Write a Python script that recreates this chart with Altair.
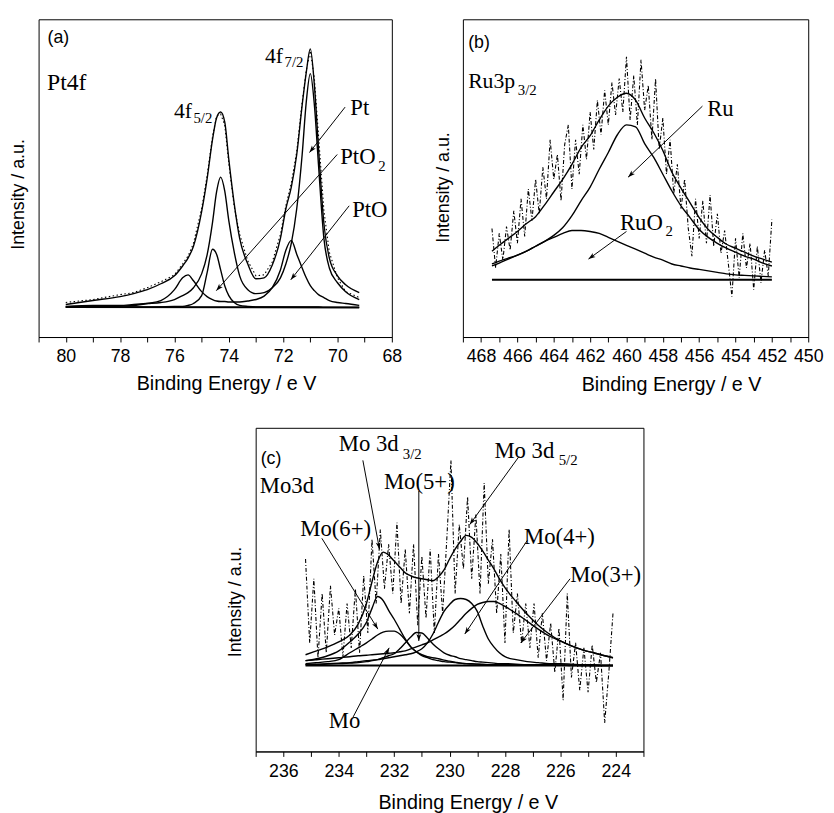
import math
import altair as alt
import pandas as pd

SANS = "Liberation Sans"
SERIF = "Liberation Serif"

# ---------------- (a) Pt 4f ----------------
a_E = [80, 79, 78, 77.5, 77, 76.5, 76, 75.7, 75.5, 75.3, 75.0, 74.8, 74.6, 74.45, 74.3,
       74.15, 74.0, 73.8, 73.6, 73.3, 73.0, 72.7, 72.4, 72.1, 71.9, 71.7, 71.5, 71.3,
       71.15, 71.0, 70.85, 70.7, 70.5, 70.3, 70.0, 69.7, 69.2]
a_env = [33, 37, 41, 44, 48, 54, 62, 72, 80, 92, 127, 160, 200, 222, 228, 218, 180, 135, 100, 74,
         59, 60, 73, 100, 130, 152, 185, 235, 268, 292, 255, 192, 115, 80, 62, 53, 45]
a_raw = [35, 38, 43, 45, 50, 56, 63, 74, 82, 95, 130, 163, 203, 224, 226, 215, 176, 132, 104, 77,
         62, 63, 76, 104, 133, 156, 188, 238, 270, 290, 262, 205, 128, 86, 60, 46, 40]
a_pt = [31, 32, 32, 33, 34, 35, 38, 42, 45, 50, 64, 83, 116, 147, 162, 148, 118, 86, 62, 48,
        44, 45, 50, 60, 74, 95, 130, 185, 238, 267, 235, 175, 100, 70, 55, 46, 38]
a_pto = [30.5, 31, 31.5, 32, 34, 37, 48, 60, 63, 57, 46, 41, 38, 36.5, 36, 36, 35.5, 35.5, 35.5, 36.5,
         38, 41.5, 50, 68, 88, 98, 84, 70, 60, 52, 47, 43, 40, 37, 35, 34, 32]
a_pto2 = [30, 30, 30, 30, 30, 30.5, 31, 31, 32, 34, 42, 65, 89, 84, 68, 52, 42, 35, 32, 31,
          30.5, 30.5, 30.5, 30.5, 30.5, 30.5, 30.5, 30.5, 30.5, 30.5, 30.5, 30.5, 30, 30, 30, 30, 30]
a_bg_E = [80.0, 69.2]
a_bg_I = [30.5, 30.0]
a_ar_x1 = [69.72, 70.01, 69.57]
a_ar_y1 = [233, 185, 133]
a_ar_x2 = [71.03, 74.46, 71.72]
a_ar_y2 = [187, 47, 58]
a_txt = ["Pt4f", "4f", "5/2", "4f", "7/2", "Pt", "PtO", "2", "PtO"]
a_txt_x = [80.69, 76.02, 75.30, 72.67, 71.95, 69.53, 69.9, 68.50, 69.46]
a_txt_y = [250, 222, 217, 278, 274, 225, 175, 168, 122]
a_txt_fs = [24, 22, 15, 22, 15, 23, 23, 15, 23]

# ---------------- (b) Ru 3p3/2 ----------------
b_E = [467.4, 467.0, 466.5, 466.0, 465.5, 465.0, 464.5, 464.0, 463.5, 463.0,
       462.5, 462.0, 461.5, 461.0, 460.5, 460.0, 459.5, 459.0, 458.5, 458.0,
       457.5, 457.0, 456.5, 456.0, 455.5, 455.0, 454.5, 454.0, 453.5, 453.0, 452.5, 452.0]
b_env = [87, 93, 100, 107, 115, 122, 134, 147, 160, 175, 192, 204, 220, 234, 243, 247, 240, 222, 207, 189,
         167, 151, 136, 121, 109, 101, 94, 90, 86, 82, 79, 76]
b_ru = [74, 77, 80, 83, 87, 92, 97, 103, 111, 123, 138, 152, 170, 187, 205, 215, 213, 196, 182, 165,
        148, 133, 121, 109, 101, 95, 90, 86, 82, 79, 75, 72]
b_ruo2 = [72, 75, 79, 83, 87, 92, 97, 101, 105, 108, 108, 107, 105, 101, 97, 93, 89, 85, 81, 78,
          74, 72, 70, 68.5, 67, 65.5, 64, 63, 62.5, 62, 61.5, 61]
b_raw_E = [467.4, 467.2, 467.0, 466.8, 466.6, 466.4, 466.2, 466.0, 465.8, 465.6, 465.4, 465.2, 465.0,
           464.8, 464.6, 464.4, 464.2, 464.0, 463.8, 463.6, 463.4, 463.2, 463.0, 462.8, 462.6, 462.4,
           462.2, 462.0, 461.8, 461.6, 461.4, 461.2, 461.0, 460.8, 460.6, 460.4, 460.2, 460.0, 459.8,
           459.6, 459.4, 459.2, 459.0, 458.8, 458.6, 458.4, 458.2, 458.0, 457.8, 457.6, 457.4, 457.2,
           457.0, 456.8, 456.6, 456.4, 456.2, 456.0, 455.8, 455.6, 455.4, 455.2, 455.0, 454.8, 454.6,
           454.4, 454.2, 454.0, 453.8, 453.6, 453.4, 453.2, 453.0, 452.8, 452.6, 452.4, 452.2, 452.0]
b_raw = [110, 70, 105, 78, 112, 88, 128, 95, 140, 102,
         150, 118, 160, 125, 172, 140, 200, 160, 185, 138,
         195, 215, 150, 200, 165, 215, 180, 228, 190, 240,
         205, 250, 215, 258, 225, 262, 228, 284, 220, 265,
         215, 281, 230, 255, 200, 262, 190, 222, 165, 200,
         145, 175, 130, 160, 110, 82, 140, 100, 138, 95,
         144, 92, 125, 85, 108, 75, 41, 100, 60, 105,
         70, 95, 48, 92, 55, 88, 62, 119]
b_bg_E = [467.4, 452.0]
b_bg_I = [58, 58]
b_ar_x1 = [455.82, 460.0]
b_ar_y1 = [234, 107]
b_ar_x2 = [459.91, 462.09]
b_ar_y2 = [162, 79]
b_txt = ["Ru3p", "3/2", "Ru", "RuO", "2"]
b_txt_x = [468.71, 465.98, 455.56, 460.36, 457.85]
b_txt_y = [252, 245, 224, 108, 102]
b_txt_fs = [22, 15, 23, 23, 15]

# ---------------- (c) Mo 3d ----------------
c_E = [235.2, 234.8, 234.4, 234.0, 233.6, 233.3, 233.0, 232.8, 232.6, 232.4,
       232.2, 232.0, 231.8, 231.6, 231.4, 231.2, 231.0, 230.8, 230.6, 230.4,
       230.2, 230.0, 229.8, 229.6, 229.4, 229.2, 229.0, 228.8, 228.6, 228.4,
       228.2, 228.0, 227.6, 227.2, 226.8, 226.4, 226.0, 225.6, 225.2, 224.8, 224.4, 224.1]
c_env = [98, 102, 106, 111, 118, 129, 150, 172, 192, 202, 199, 193, 187, 181, 178, 176, 175, 174, 173, 177,
         184, 195, 205, 213, 219, 217, 211, 203, 194, 185, 175, 166, 152, 139, 128, 119, 112, 107, 103, 100,
         97, 95]
c_mo6 = [92, 94, 97, 102, 111, 119, 131, 145, 157, 153, 143, 134, 124, 114, 106, 101, 97, 95, 93, 92,
         91, 90.5, 90, 89.5, 89, 89, 88.5, 88.5, 88, 88, 88, 88, 88, 87.5, 87.5, 87.5, 87.5, 87.5, 87, 87,
         87, 87]
c_mo = [89, 90, 91, 93, 100, 105, 110, 114, 118, 121, 122, 122, 119, 113, 106, 101, 98, 96, 95, 94,
        92.5, 91.5, 90.5, 89.5, 89, 88.5, 88.5, 88, 88, 88, 88, 88, 87.5, 87.5, 87.5, 87.5, 87.5, 87, 87, 87,
        87, 87]
c_mo5 = [88, 88, 88.5, 89, 89.5, 90, 91, 92, 93, 95, 97, 99, 104, 110, 116, 120.5, 120, 115, 109, 104,
         100, 97.5, 96, 94, 93, 92, 91, 90.5, 90, 89.5, 89, 89, 88.5, 88, 88, 88, 87.5, 87.5, 87.5, 87,
         87, 87]
c_mo4 = [88, 88.5, 89, 89.5, 90, 91, 92, 92.5, 93, 94, 95, 96, 97, 98, 99, 101, 104, 110, 119, 131,
         142, 149, 154, 155, 154, 150, 142, 127, 114, 106, 100, 96, 93, 91, 90, 89, 89, 88.5, 88, 88,
         87.5, 87.5]
c_mo3 = [92, 93, 94, 95, 96, 97, 97.5, 98, 98.5, 99, 99.5, 100, 101, 102, 104, 106, 108, 110, 113, 116,
         119, 123, 128, 134, 140, 145, 149, 151, 152, 152, 150, 147, 140, 132, 124, 117, 112, 107, 103, 100,
         97, 95]
c_raw_E = [235.20, 235.05, 234.90, 234.75, 234.60, 234.45, 234.30, 234.15, 234.00, 233.85,
           233.70, 233.55, 233.40, 233.25, 233.10, 232.95, 232.80, 232.65, 232.50, 232.35,
           232.20, 232.05, 231.90, 231.75, 231.60, 231.45, 231.30, 231.15, 231.00, 230.85,
           230.70, 230.55, 230.40, 230.25, 230.10, 229.95, 229.80, 229.65, 229.50, 229.35,
           229.20, 229.05, 228.90, 228.75, 228.60, 228.45, 228.30, 228.15, 228.00, 227.85,
           227.70, 227.55, 227.40, 227.25, 227.10, 226.95, 226.80, 226.65, 226.50, 226.35,
           226.20, 226.05, 225.90, 225.75, 225.60, 225.45, 225.30, 225.15, 225.00, 224.85,
           224.70, 224.55, 224.40, 224.25, 224.10]
c_raw = [195, 110, 175, 95, 160, 100, 168, 118, 145, 96,
         150, 105, 165, 100, 178, 120, 215, 150, 225, 165,
         210, 160, 232, 150, 205, 140, 210, 128, 198, 135,
         205, 120, 200, 140, 215, 295, 160, 230, 185, 258,
         175, 240, 160, 272, 170, 215, 140, 200, 110, 225,
         120, 160, 110, 150, 105, 150, 95, 140, 92, 130,
         80, 125, 52, 160, 75, 110, 62, 105, 60, 108,
         70, 100, 29, 80, 140]
c_bg_E = [235.2, 224.1]
c_bg_I = [87, 87]
c_ar_x1 = [233.13, 231.11, 227.49, 234.61, 227.19, 225.65, 233.48]
c_ar_y1 = [295, 264, 299, 216, 214, 175, 35]
c_ar_x2 = [232.53, 231.11, 229.27, 232.59, 229.45, 227.43, 232.18]
c_ar_y2 = [205, 112, 230, 124, 119, 110, 105]
c_txt = ["Mo3d", "Mo 3d", "3/2", "Mo(5+)", "Mo 3d", "5/2", "Mo(6+)", "Mo(4+)", "Mo(3+)", "Mo"]
c_txt_x = [236.85, 234.0, 231.69, 232.37, 228.38, 226.06, 235.39, 227.31, 225.64, 234.36]
c_txt_y = [262, 304, 296, 266, 297, 290, 218, 210, 172, 24]
c_txt_fs = [23, 23, 15, 23, 23, 15, 23, 23, 23, 23]

ARROW = "M0,0L-0.55,1.6L0,1.2L0.55,1.6Z"


def build_panel(dom, ymax, width, height, cE, curves, rE, rI, rdash, bgE, bgI,
                x1, y1, x2, y2, txt, tx, ty, tfs, tag, tag_x, tag_y, title_x, title_y, ytitle_y):
    xs = alt.Scale(domain=dom, reverse=True, nice=False, zero=False)
    ys = alt.Scale(domain=[0, ymax], nice=False, zero=False)
    xaxis = alt.Axis(title="Binding Energy / e V", values=list(range(dom[0], dom[1] + 1)),
                     labelExpr="datum.value % 2 == 0 ? datum.label : ''",
                     titleX=title_x, titleY=title_y, titleBaseline="alphabetic",
                     grid=False, labelFont=SANS, titleFont=SANS, labelFontSize=18, titleFontSize=20,
                     titleFontWeight="normal", labelColor="black", titleColor="black",
                     domainColor="black", tickColor="black", tickSize=5, labelPadding=20,
                     labelBaseline="alphabetic", labelOverlap=False, labelFlush=False)
    yaxis = alt.Axis(title="Intensity / a.u.", labels=False, ticks=False, domain=False, grid=False,
                     titleY=ytitle_y, titleFont=SANS, titleFontSize=18, titleFontWeight="normal",
                     titleColor="black", titlePadding=11)

    def X(f):
        return alt.X(f, type="quantitative", scale=xs, axis=xaxis)

    def Y(f):
        return alt.Y(f, type="quantitative", scale=ys, axis=yaxis)

    rows = []
    for name, vals in curves.items():
        for e, v in zip(cE, vals):
            rows.append({"E": e, "I": v, "s": name})
    df_c = pd.DataFrame(rows)
    fits = alt.Chart(df_c).mark_line(color="black", strokeWidth=1.4, interpolate="monotone").encode(
        x=X("E"), y=Y("I"), detail="s:N", order=alt.Order("E:Q", sort="descending"))

    df_r = pd.DataFrame({"E": rE, "I": rI})
    raw = alt.Chart(df_r).mark_line(color="black", strokeWidth=1.1, strokeDash=rdash).encode(
        x=X("E"), y=Y("I"), order=alt.Order("E:Q", sort="descending"))

    df_bg = pd.DataFrame({"E": bgE, "I": bgI})
    bg = alt.Chart(df_bg).mark_line(color="black", strokeWidth=2).encode(x=X("E"), y=Y("I"))

    pxe = width / (dom[1] - dom[0])
    pxi = height / ymax
    angs = []
    for a, b, c, d in zip(x1, y1, x2, y2):
        dx = -(c - a) * pxe
        dy = -(d - b) * pxi
        angs.append(math.degrees(math.atan2(dx, -dy)) % 360)
    df_a = pd.DataFrame({"x1": x1, "y1": y1, "x2": x2, "y2": y2, "ang": angs})
    rules = alt.Chart(df_a).mark_rule(color="black", strokeWidth=1).encode(
        x=X("x1"), y=Y("y1"), x2="x2:Q", y2="y2:Q")
    heads = alt.Chart(df_a).mark_point(shape=ARROW, filled=True, color="black", size=80, opacity=1).encode(
        x=X("x2"), y=Y("y2"), angle=alt.Angle("ang:Q", scale=None))

    df_t = pd.DataFrame({"t": txt, "x": tx, "y": ty, "fs": tfs})
    texts = alt.Chart(df_t).mark_text(align="left", baseline="alphabetic", font=SERIF, color="black").encode(
        x=X("x"), y=Y("y"), text="t:N", size=alt.Size("fs:Q", scale=None))
    df_tag = pd.DataFrame({"t": [tag], "x": [tag_x], "y": [tag_y]})
    tagm = alt.Chart(df_tag).mark_text(align="left", baseline="alphabetic", font=SANS, fontSize=18,
                                       color="black").encode(x=X("x"), y=Y("y"), text="t:N")

    return alt.layer(fits, raw, bg, rules, heads, texts, tagm).properties(width=width, height=height)


pa = build_panel([68, 81], 322, 358, 322, a_E,
                 {"env": a_env, "Pt": a_pt, "PtO": a_pto, "PtO2": a_pto2},
                 a_E, a_raw, [1.5, 2.5], a_bg_E, a_bg_I,
                 a_ar_x1, a_ar_y1, a_ar_x2, a_ar_y2, a_txt, a_txt_x, a_txt_y, a_txt_fs,
                 "(a)", 80.67, 298, 190, 53, 177)

pb = build_panel([450, 469], 322, 350, 322, b_E,
                 {"env": b_env, "Ru": b_ru, "RuO2": b_ruo2},
                 b_raw_E, b_raw, [4, 2, 1, 2], b_bg_E, b_bg_I,
                 b_ar_x1, b_ar_y1, b_ar_x2, b_ar_y2, b_txt, b_txt_x, b_txt_y, b_txt_fs,
                 "(b)", 468.71, 293, 211, 54, 170)

pc = build_panel([223, 237], 328, 393, 328, c_E,
                 {"env": c_env, "Mo6": c_mo6, "Mo": c_mo, "Mo5": c_mo5, "Mo4": c_mo4, "Mo3": c_mo3},
                 c_raw_E, c_raw, [4, 2, 1, 2], c_bg_E, c_bg_I,
                 c_ar_x1, c_ar_y1, c_ar_x2, c_ar_y2, c_txt, c_txt_x, c_txt_y, c_txt_fs,
                 "(c)", 236.82, 291, 215, 58, 176)

spacer = alt.Chart(pd.DataFrame({"v": [0]})).mark_point(opacity=0).encode(
    x=alt.X("v:Q", axis=None), y=alt.Y("v:Q", axis=None)
).properties(width=220, height=10, view=alt.ViewBackground(stroke="transparent"))

row1 = alt.hconcat(pa, pb, spacing=72, bounds="flush")
row2 = alt.hconcat(spacer, pc, spacing=0, bounds="flush")

chart = alt.vconcat(row1, row2, spacing=32).properties(
    padding={"left": 1, "top": 5, "right": 2, "bottom": 0}
).configure(background="white").configure_view(stroke="black", strokeWidth=1)

chart.save("out.html", embed_options={"renderer": "svg", "actions": False})
